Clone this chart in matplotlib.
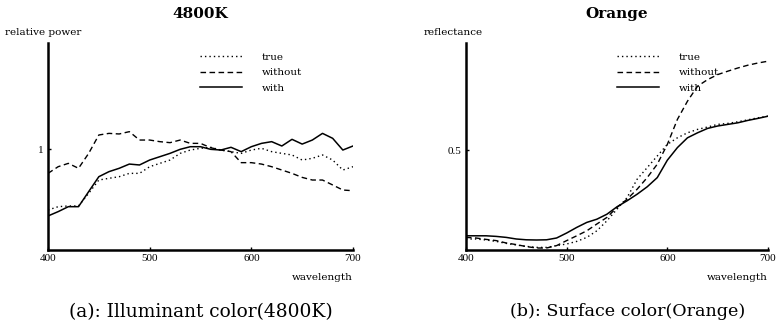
import matplotlib
matplotlib.use("Agg")
import matplotlib.pyplot as plt
import numpy as np

wavelength = list(range(400, 701, 10))

# (a) Illuminant 4800K relative power
illum_true = [0.396, 0.429, 0.436, 0.436, 0.561, 0.693, 0.710, 0.726, 0.759, 0.759,
              0.825, 0.858, 0.891, 0.957, 0.990, 1.007, 1.017, 0.990, 0.974, 0.957,
              0.990, 1.007, 0.974, 0.957, 0.941, 0.891, 0.908, 0.941, 0.891, 0.792, 0.825]
illum_without = [0.759, 0.825, 0.858, 0.809, 0.957, 1.139, 1.155, 1.149, 1.172, 1.089,
                 1.089, 1.073, 1.063, 1.089, 1.056, 1.056, 1.013, 0.990, 0.974, 0.865,
                 0.865, 0.851, 0.825, 0.792, 0.759, 0.719, 0.693, 0.693, 0.644, 0.594, 0.587]
illum_with = [0.337, 0.380, 0.429, 0.429, 0.578, 0.726, 0.776, 0.809, 0.851, 0.842,
              0.891, 0.924, 0.957, 0.997, 1.023, 1.023, 0.997, 0.990, 1.017, 0.974,
              1.023, 1.056, 1.073, 1.030, 1.096, 1.049, 1.089, 1.155, 1.106, 0.990, 1.030]

# (b) Surface Orange reflectance
refl_true = [0.055, 0.055, 0.050, 0.043, 0.033, 0.025, 0.018, 0.013, 0.013, 0.022,
             0.030, 0.043, 0.063, 0.096, 0.146, 0.204, 0.262, 0.354, 0.412, 0.470,
             0.528, 0.561, 0.586, 0.603, 0.615, 0.628, 0.633, 0.641, 0.651, 0.661, 0.669]
refl_without = [0.063, 0.060, 0.053, 0.047, 0.035, 0.027, 0.017, 0.010, 0.010, 0.022,
                0.047, 0.071, 0.096, 0.130, 0.163, 0.213, 0.254, 0.304, 0.362, 0.429,
                0.528, 0.653, 0.744, 0.819, 0.852, 0.877, 0.894, 0.910, 0.924, 0.935, 0.944]
refl_with = [0.071, 0.071, 0.071, 0.068, 0.063, 0.055, 0.051, 0.050, 0.051, 0.060,
             0.085, 0.113, 0.138, 0.154, 0.179, 0.216, 0.246, 0.279, 0.316, 0.362,
             0.449, 0.512, 0.561, 0.586, 0.608, 0.620, 0.628, 0.636, 0.648, 0.658, 0.669]

x_ticks = [400, 500, 600, 700]
series_labels = ["true", "without", "with"]

plt.rcParams["font.family"] = ["DejaVu Serif"]

fig = plt.figure(figsize=(7.78, 3.29), dpi=100)
axL = fig.add_axes([48/778, 79/329, 305/778, 207/329])
axR = fig.add_axes([466/778, 79/329, 302/778, 207/329])

def style(ax, ylim, yticks, yticklabels, ylabel, title, lx):
    ax.set_xlim(400, 700)
    ax.set_ylim(*ylim)
    for s in ["top", "right"]:
        ax.spines[s].set_visible(False)
    for s in ["left", "bottom"]:
        ax.spines[s].set_linewidth(1.8)
    ax.set_xticks(x_ticks)
    ax.set_xticklabels([str(t) for t in x_ticks], fontsize=8, family="Liberation Serif")
    ax.set_yticks(yticks)
    ax.set_yticklabels(yticklabels, fontsize=8, family="Liberation Serif")
    ax.tick_params(direction="in", length=2, width=1, pad=3)
    ax.text(1.0, -0.135, "wavelength", transform=ax.transAxes, ha="right",
            va="center", fontsize=7.5)
    ax.text(-0.14, 1.05, ylabel, transform=ax.transAxes, ha="left",
            va="center", fontsize=7.5)
    ax.set_title(title, fontsize=11, fontweight="bold", pad=18)
    ax.legend(frameon=False, loc="upper left", bbox_to_anchor=(lx, 0.955),
              fontsize=7.5, handlelength=4.0, handletextpad=1.9,
              labelspacing=0.62, borderpad=0, borderaxespad=0)

for ax, ys in [(axL, [illum_true, illum_without, illum_with]),
               (axR, [refl_true, refl_without, refl_with])]:
    ax.plot(wavelength, ys[0], color="black", lw=1.0, ls=(0, (1, 2.2)), label=series_labels[0])
    ax.plot(wavelength, ys[1], color="black", lw=1.0, ls=(0, (4, 2.5)), label=series_labels[1])
    ax.plot(wavelength, ys[2], color="black", lw=1.1, ls="-", label=series_labels[2])

style(axL, (0, 2.05), [1], ["1"], "relative power", "4800K", 0.498)
style(axR, (0, 1.035), [0.5], ["0.5"], "reflectance", "Orange", 0.5)

fig.text(201/778, 1 - 312/329, "(a): Illuminant color(4800K)", ha="center",
         va="center", fontsize=13.4)
fig.text(628/778, 1 - 312/329, "(b): Surface color(Orange)", ha="center",
         va="center", fontsize=12.6)

fig.savefig("out.png", dpi=100)
